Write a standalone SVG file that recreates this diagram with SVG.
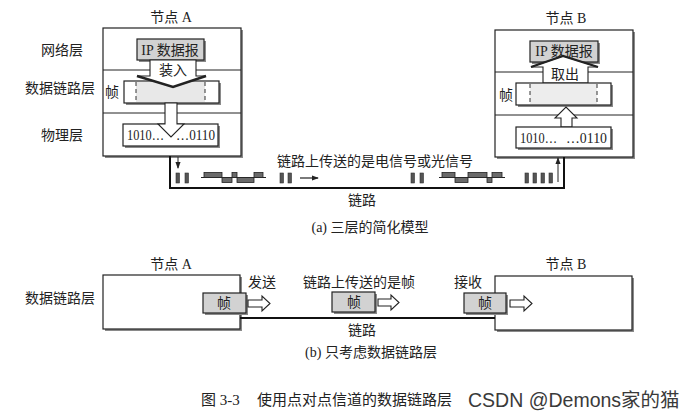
<svg xmlns="http://www.w3.org/2000/svg" width="687" height="416" viewBox="0 0 687 416">
<defs>
<style>
.t{font-family:"Liberation Serif","Noto Sans CJK SC",serif;font-size:14px;fill:#222;text-anchor:middle;dominant-baseline:central}
.num{font-family:"Liberation Serif",serif;font-size:15px;fill:#222;dominant-baseline:central}
.box{fill:#fff;stroke:#222;stroke-width:1.2}
.sh{fill:#8a8a8a}
.gbox{fill:#d2d2d2;stroke:#222;stroke-width:1.2}
.arr{fill:#fff;stroke:#222;stroke-width:1.1;stroke-linejoin:miter}
.dash{stroke:#333;stroke-width:1;stroke-dasharray:4 3}
.bar{fill:#555;stroke:#333;stroke-width:0.6}
.wav{fill:#6a6a6a;stroke:#222;stroke-width:0.8}
.link{fill:none;stroke:#111;stroke-width:2}
</style>
<marker id="ah" viewBox="0 0 8 8" refX="7" refY="4" markerWidth="7" markerHeight="7" markerUnits="userSpaceOnUse" orient="auto">
<path d="M0,1 L8,4 L0,7 Z" fill="#222"/>
</marker>
</defs>
<rect width="687" height="416" fill="#fff"/>

<!-- (a) Node A -->
<g id="nodeA">
<rect class="sh" x="105" y="30" width="138" height="128"/>
<rect class="box" x="103" y="28" width="138" height="128"/>
<line x1="103" y1="70" x2="241" y2="70" stroke="#222" stroke-width="1"/>
<line x1="103" y1="113" x2="241" y2="113" stroke="#222" stroke-width="1"/>
<text class="t" x="171" y="17">节点 A</text>
<rect class="sh" x="139" y="41" width="67" height="21"/>
<rect class="gbox" x="137" y="39" width="67" height="21"/>
<text class="t" x="170" y="50">IP 数据报</text>
<rect class="sh" x="126" y="83" width="95" height="22"/>
<rect class="box" x="124" y="81" width="95" height="22"/>
<rect x="136" y="82" width="69" height="20" fill="#e8e8e8"/>
<line class="dash" x1="136" y1="82" x2="136" y2="102"/>
<line class="dash" x1="205" y1="82" x2="205" y2="102"/>
<polygon class="arr" points="150,60 196,60 196,76 206,76 173,87 137,76 150,76"/>
<polyline points="137,76 173,87 206,76" fill="none" stroke="#222" stroke-width="2.5"/>
<text class="t" x="173" y="70">装入</text>
<rect class="sh" x="125" y="126" width="95" height="22"/>
<rect class="box" x="123" y="124" width="95" height="22"/>
<text class="num" x="127" y="135" textLength="37" lengthAdjust="spacingAndGlyphs">1010…</text>
<text class="num" x="176" y="135" textLength="39" lengthAdjust="spacingAndGlyphs">…0110</text>
<polygon class="arr" points="165,103 177,103 177,124 184,124 171,137 158,124 165,124"/>
</g>

<!-- (a) Node B -->
<g id="nodeB">
<rect class="sh" x="497" y="32" width="138" height="127"/>
<rect class="box" x="495" y="30" width="138" height="127"/>
<line x1="495" y1="72" x2="633" y2="72" stroke="#222" stroke-width="1"/>
<line x1="495" y1="115" x2="633" y2="115" stroke="#222" stroke-width="1"/>
<text class="t" x="566" y="18">节点 B</text>
<rect class="sh" x="532" y="43" width="68" height="21"/>
<rect class="gbox" x="530" y="41" width="68" height="21"/>
<text class="t" x="564" y="51">IP 数据报</text>
<polygon class="arr" points="543,83 588,83 588,67 598,67 563,56 531,67 543,67"/>
<polyline points="531,67 563,56 598,67" fill="none" stroke="#222" stroke-width="2.2"/>
<text class="t" x="565" y="74">取出</text>
<rect class="sh" x="518" y="85" width="95" height="22"/>
<rect class="box" x="516" y="83" width="95" height="22"/>
<rect x="530" y="84" width="67" height="20" fill="#ededed"/>
<line class="dash" x1="530" y1="84" x2="530" y2="104"/>
<line class="dash" x1="597" y1="84" x2="597" y2="104"/>
<polygon class="arr" points="561,127 572,127 572,118 577,118 566,107 555,118 561,118"/>
<rect class="sh" x="518" y="129" width="95" height="21"/>
<rect class="box" x="516" y="127" width="95" height="21"/>
<text class="num" x="520" y="138" textLength="37" lengthAdjust="spacingAndGlyphs">1010…</text>
<text class="num" x="566" y="138" textLength="41" lengthAdjust="spacingAndGlyphs">…0110</text>
</g>

<!-- (a) labels -->
<g id="layerLabels">
<text class="t" x="62" y="50">网络层</text>
<text class="t" x="60" y="88">数据链路层</text>
<text class="t" x="62" y="135">物理层</text>
<text class="t" x="112" y="92">帧</text>
<text class="t" x="506" y="95">帧</text>
</g>

<!-- (a) link and signals -->
<g id="connectors">
<polyline class="link" points="170,156 170,188 564,188 564,157"/>
<line x1="178" y1="157" x2="178" y2="168" stroke="#222" stroke-width="1" marker-end="url(#ah)"/>
<line x1="558" y1="182" x2="558" y2="158" stroke="#222" stroke-width="1" marker-end="url(#ah)"/>
<line x1="300" y1="178" x2="318" y2="178" stroke="#222" stroke-width="1.2" marker-end="url(#ah)"/>
<rect class="bar" x="176" y="173" width="3.5" height="10"/>
<rect class="bar" x="185" y="173" width="3.5" height="10"/>
<rect class="bar" x="280" y="173" width="3.5" height="10"/>
<rect class="bar" x="288" y="173" width="3.5" height="10"/>
<rect class="bar" x="411" y="173" width="3.5" height="10"/>
<rect class="bar" x="420" y="173" width="3.5" height="10"/>
<rect class="bar" x="525" y="173" width="3.5" height="10"/>
<rect class="bar" x="533" y="173" width="3.5" height="10"/>
<rect class="bar" x="541" y="173" width="3.5" height="10"/>
<rect class="bar" x="549" y="173" width="3.5" height="10"/>
<line x1="201" y1="177.5" x2="266" y2="177.5" stroke="#222" stroke-width="1"/>
<rect class="wav" x="204" y="172.5" width="18" height="5"/>
<rect class="wav" x="222" y="177.5" width="10" height="5"/>
<rect class="wav" x="232" y="172.5" width="5" height="5"/>
<rect class="wav" x="237" y="177.5" width="17" height="5"/>
<rect class="wav" x="254" y="172.5" width="9" height="5"/>
<line x1="439" y1="177.5" x2="505" y2="177.5" stroke="#222" stroke-width="1"/>
<rect class="wav" x="442" y="172.5" width="13" height="5"/>
<rect class="wav" x="455" y="177.5" width="13" height="5"/>
<rect class="wav" x="468" y="172.5" width="19" height="5"/>
<rect class="wav" x="487" y="177.5" width="5" height="5"/>
<rect class="wav" x="492" y="172.5" width="10" height="5"/>
</g>
<g id="labelsA">
<text class="t" x="375" y="161">链路上传送的是电信号或光信号</text>
<text class="t" x="362" y="200">链路</text>
<text class="t" x="370" y="227">(a) 三层的简化模型</text>
</g>

<!-- (b) -->
<g id="nodeA2">
<rect class="sh" x="105" y="277" width="137" height="54"/>
<rect class="box" x="103" y="275" width="137" height="54"/>
<text class="t" x="171" y="264">节点 A</text>
</g>
<g id="nodeB2">
<rect class="sh" x="497" y="278" width="137" height="54"/>
<rect class="box" x="495" y="276" width="137" height="54"/>
<text class="t" x="566" y="264">节点 B</text>
</g>
<g id="links2">
<line x1="240" y1="318" x2="495" y2="318" stroke="#111" stroke-width="2"/>
</g>
<g id="frameA">
<rect class="sh" x="205" y="295" width="43" height="20"/>
<rect class="gbox" x="203" y="293" width="43" height="20"/>
<text class="t" x="224" y="303">帧</text>
<polygon class="arr" points="248,300 262,300 262,296 270,303.5 262,311 262,307 248,307"/>
</g>
<g id="frameMid">
<rect class="sh" x="334" y="294" width="43" height="20"/>
<rect class="gbox" x="332" y="292" width="43" height="20"/>
<text class="t" x="354" y="302">帧</text>
<polygon class="arr" points="378,299 391,299 391,295 399,302.5 391,310 391,306 378,306"/>
</g>
<g id="frameB">
<rect class="sh" x="466" y="295" width="42" height="20"/>
<rect class="gbox" x="464" y="293" width="42" height="20"/>
<text class="t" x="485" y="303">帧</text>
<polygon class="arr" points="510,300 524,300 524,296 532,303.5 524,311 524,307 510,307"/>
</g>
<g id="labelsB">
<text class="t" x="60" y="298">数据链路层</text>
<text class="t" x="262" y="282">发送</text>
<text class="t" x="359" y="282">链路上传送的是帧</text>
<text class="t" x="468" y="282">接收</text>
<text class="t" x="362" y="330">链路</text>
<text class="t" x="371" y="352">(b) 只考虑数据链路层</text>
</g>

<g id="caption">
<text class="t" x="201" y="400" style="text-anchor:start;font-size:15px">图 3-3</text>
<text class="t" x="257" y="400" style="text-anchor:start;font-size:15px">使用点对点信道的数据链路层</text>
<text x="468" y="400" style="font-family:'Liberation Sans','Noto Sans CJK SC',sans-serif;font-size:19.5px;fill:#3a3a3a;dominant-baseline:central">CSDN @Demons家的猫</text>
</g>
</svg>
